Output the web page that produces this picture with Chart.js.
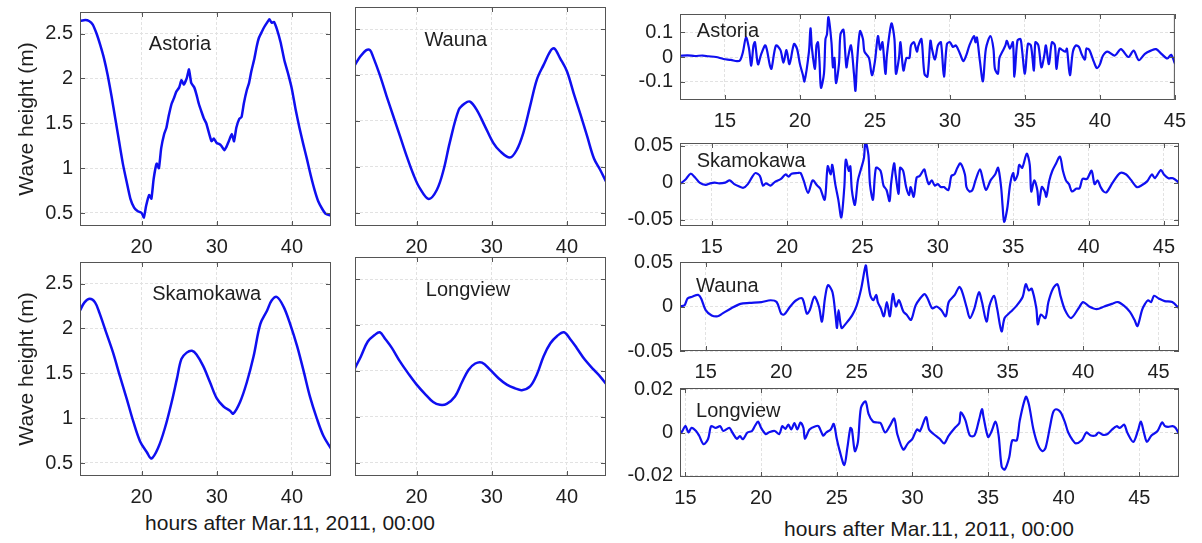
<!DOCTYPE html>
<html>
<head>
<meta charset="utf-8">
<script src="https://cdn.jsdelivr.net/npm/chart.js@4"></script>
<style>
  body { margin: 0; background: #fff; }
  #fig { position: relative; width: 1202px; height: 543px; overflow: hidden; font-family: "Liberation Sans", Arial, sans-serif; }
  #fig canvas { position: absolute; }
  .xlab { position: absolute; font-size: 21px; line-height: 24px; color: #1a1a1a; white-space: nowrap; transform: translateX(-50%); }
</style>
</head>
<body>
<div id="fig">
  <div class="xlab" style="left:290px; top:511px">hours after Mar.11, 2011, 00:00</div>
  <div class="xlab" style="left:929px; top:517px">hours after Mar.11, 2011, 00:00</div>
</div>
<script>
// tick values
const leftXTicks = [20, 30, 40];
const leftYTicks = [0.5, 1, 1.5, 2, 2.5];
const rightXTicks = [15, 20, 25, 30, 35, 40, 45];
const astoriaYTicks = [-0.1, 0, 0.1];
const skamokawaYTicks = [-0.05, 0, 0.05];
const waunaYTicks = [-0.05, 0, 0.05];
const longviewYTicks = [-0.02, 0, 0.02];

// left: total water level (m)
const astoriaTideHours = [11.8,12.5,13,13.5,14,14.5,15,15.5,16,16.5,17,17.5,18,18.5,19,19.5,20,20.3,20.6,21,21.3,21.6,22,22.3,22.6,23,23.3,23.6,24,24.3,24.6,25,25.3,25.6,26,26.3,26.6,27,27.3,27.6,28,28.3,28.6,29,29.3,29.6,30,30.3,30.6,31,31.3,31.6,32,32.3,32.6,33,33.3,33.6,34,34.3,34.6,35,35.3,35.6,36,36.3,36.6,37,37.3,37.6,38,38.5,39,39.5,40,40.5,41,41.5,42,42.5,43,43.5,44,44.5,45.2];
const astoriaTide = [2.64,2.65,2.64,2.6,2.5,2.37,2.22,2.03,1.8,1.55,1.3,1.05,0.85,0.66,0.56,0.52,0.5,0.45,0.58,0.7,0.66,0.88,1.05,1.0,1.22,1.38,1.45,1.58,1.72,1.78,1.85,1.9,1.98,1.93,2.0,2.1,1.95,1.9,1.82,1.72,1.62,1.55,1.5,1.38,1.3,1.33,1.28,1.27,1.25,1.2,1.24,1.3,1.38,1.3,1.45,1.55,1.57,1.72,1.87,1.95,2.08,2.22,2.35,2.45,2.52,2.57,2.61,2.66,2.62,2.63,2.55,2.4,2.2,2.05,1.88,1.65,1.45,1.27,1.1,0.92,0.76,0.63,0.55,0.49,0.47];

const waunaTideHours = [11.8,12.5,13.3,13.8,14.2,15.1,16,16.9,17.8,18.7,19.6,20.4,21.6,22.7,23.6,24.4,25.6,26.4,27.1,28,29.1,30.2,31.1,32.4,33.3,34.2,35.1,36,36.9,37.8,38.3,39.1,40,40.9,41.8,42.7,43.6,44.4,45.2];
const waunaTide = [2.11,2.2,2.27,2.27,2.2,2.0,1.77,1.55,1.33,1.11,0.91,0.77,0.65,0.75,0.97,1.26,1.62,1.69,1.71,1.62,1.44,1.26,1.17,1.1,1.18,1.37,1.66,1.95,2.11,2.26,2.29,2.18,2.04,1.8,1.57,1.33,1.09,0.97,0.84];

const skamokawaTideHours = [11.8,12.4,13.1,13.8,14.4,15.3,16.2,17.1,18,18.9,19.8,20.7,21.3,22.2,23.1,24,24.7,25.3,26,26.7,27.3,28.2,29.1,30,30.9,31.8,32.2,33.1,34,34.9,35.8,36.7,37.3,38,38.9,39.8,40.7,41.6,42.4,43.3,44.2,45.2];
const skamokawaTide = [2.2,2.29,2.33,2.29,2.17,1.95,1.73,1.47,1.22,0.96,0.74,0.62,0.55,0.67,0.89,1.18,1.44,1.66,1.73,1.75,1.71,1.58,1.4,1.22,1.13,1.08,1.05,1.18,1.4,1.69,2.05,2.2,2.31,2.35,2.24,2.04,1.8,1.51,1.24,1.0,0.8,0.66];

const longviewTideHours = [11.8,12.6,13.5,14.4,15.1,15.8,16.7,17.8,18.9,20,21.1,22.2,23.1,24,25.1,26,26.9,27.8,28.7,29.8,30.9,32,33.1,34,35.1,36,36.9,37.8,38.7,39.6,40.4,41.3,42.4,43.6,44.4,45.2];
const longviewTide = [1.53,1.66,1.82,1.89,1.92,1.85,1.75,1.6,1.47,1.35,1.25,1.16,1.13,1.14,1.22,1.37,1.51,1.58,1.59,1.51,1.42,1.35,1.31,1.29,1.33,1.46,1.66,1.8,1.88,1.92,1.85,1.75,1.62,1.51,1.44,1.36];

// right: high-pass tsunami signal (m)
const astoriaWaveHours = [12,12.5,13,13.5,13.9,14.4,14.9,15.4,15.8,16,16.2,16.4,16.6,16.75,16.9,17,17.2,17.4,17.7,18,18.1,18.4,18.7,18.9,19.1,19.3,19.6,19.8,20,20.2,20.3,20.6,20.7,20.8,21,21.1,21.2,21.3,21.4,21.6,21.7,21.8,21.9,22.1,22.2,22.3,22.4,22.6,22.7,22.9,23,23.1,23.2,23.4,23.6,23.7,23.8,24,24.2,24.3,24.6,24.8,25,25.2,25.35,25.5,25.7,25.8,26.1,26.3,26.4,26.6,26.7,26.9,27.1,27.3,27.4,27.6,27.8,27.9,28.1,28.3,28.5,28.7,28.8,29,29.2,29.4,29.6,29.8,30,30.2,30.4,30.7,30.9,31.1,31.3,31.6,31.7,31.8,32,32.2,32.4,32.7,32.9,33,33.2,33.3,33.5,33.7,33.8,34,34.2,34.3,34.5,34.7,34.8,35,35.2,35.4,35.6,35.7,35.9,36.1,36.3,36.4,36.6,36.8,37,37.1,37.3,37.5,37.7,37.8,38,38.2,38.4,38.6,38.8,39,39.1,39.3,39.6,39.8,40,40.2,40.5,41,41.4,41.9,42.25,42.6,43,43.4,43.75,44.1,44.5,44.75,45];
const astoriaWave = [0.005,0.007,0.004,0.006,0.003,0,-0.008,-0.012,-0.017,-0.014,0.021,0.08,0.035,-0.035,0.047,0.06,-0.03,0.009,0.047,-0.036,-0.048,0.047,0.028,-0.023,0.028,-0.029,0.053,0.034,-0.029,-0.074,-0.099,0.022,0.117,0.034,-0.048,0.047,0.06,-0.017,-0.125,-0.068,0.073,0.092,0.162,0.06,-0.042,-0.004,-0.106,-0.029,0.092,0.111,0.034,-0.042,-0.004,0.047,-0.068,-0.138,-0.029,0.105,0.073,0.022,-0.004,-0.074,-0.017,0.085,0.03,0.06,-0.068,0.009,0.136,0.073,-0.068,-0.004,0.06,-0.055,-0.004,-0.004,0.047,0.06,0.022,0.047,0.073,-0.068,-0.08,0.066,0.034,-0.01,0.047,0.06,-0.08,0.053,0.06,0.041,0.047,0.009,-0.017,0.009,0.047,0.085,0.06,0.079,-0.017,-0.099,0.034,0.085,0.034,-0.048,-0.068,-0.004,0.022,0.047,0.066,0.034,0.06,-0.08,0.066,0.073,0.034,-0.068,0.053,0.047,-0.055,0.06,0.047,-0.042,0.009,0.047,-0.029,0.06,0.047,-0.048,0.034,0.028,0.022,0.034,-0.074,0.022,0.047,0.041,0.009,-0.01,0.034,0.028,-0.02,-0.045,-0.03,0.005,0.022,0.006,0.032,0,0.026,-0.013,0.013,0.026,0.032,0.013,-0.006,0.009,-0.026];

const skamokawaWaveHours = [12.9,13.3,13.6,13.9,14.2,14.6,14.9,15.2,15.5,15.9,16.2,16.5,16.8,17.1,17.4,17.7,17.9,18.2,18.4,18.6,18.9,19.2,19.6,19.9,20.1,20.3,20.7,20.9,21.1,21.4,21.7,22,22.2,22.5,22.7,22.9,23,23.2,23.4,23.6,23.8,23.9,24.1,24.2,24.3,24.5,24.7,24.9,25.1,25.2,25.4,25.5,25.7,25.9,26.2,26.4,26.6,26.8,26.9,27.1,27.2,27.4,27.5,27.7,27.9,28.1,28.2,28.4,28.6,28.8,29.1,29.2,29.4,29.6,29.8,30,30.2,30.4,30.7,30.9,31.1,31.3,31.5,31.8,31.9,32.1,32.3,32.5,32.8,33,33.2,33.5,33.8,34,34.2,34.3,34.4,34.6,34.8,35,35.1,35.3,35.4,35.6,35.9,36.1,36.2,36.4,36.6,36.7,36.9,37.1,37.2,37.4,37.6,37.8,38.1,38.3,38.5,38.7,38.9,39.2,39.4,39.6,39.9,40.2,40.4,40.6,40.8,41,41.2,41.6,42.1,42.5,42.8,43.2,43.5,43.9,44.2,44.4,44.8,45,45.3,45.6,46];
const skamokawaWave = [-0.002,0.005,0.012,0.007,0,-0.003,-0.001,0,-0.001,0,0.003,-0.002,-0.005,-0.007,-0.002,0.008,0.013,0.009,-0.004,-0.001,-0.004,0.001,0.005,0.011,0.008,0.012,0.013,0.013,0.003,-0.014,0.003,-0.004,-0.008,-0.023,0.022,0.011,0.024,-0.002,-0.023,-0.047,-0.006,0.031,0.016,0.022,-0.01,-0.03,0.003,0.018,0.033,0.056,0.037,-0.002,-0.023,0.02,0.016,-0.004,-0.01,-0.025,-0.002,0.026,0.011,-0.015,0.02,0.016,-0.006,-0.017,-0.006,-0.019,0.007,0.009,0.018,0.011,-0.002,0.003,-0.004,-0.002,-0.006,-0.006,-0.01,0.009,0.011,0.02,0.026,0.011,-0.006,-0.012,-0.01,0.003,0.018,0.003,-0.01,0.003,0.011,0.02,-0.006,-0.032,-0.053,-0.036,-0.002,0.013,0.003,0.011,0.024,0.02,0.039,0.024,-0.012,0.003,-0.01,-0.03,-0.006,-0.012,-0.019,0.003,0.016,0.024,0.035,0.016,0.003,-0.002,-0.012,-0.008,-0.008,0.005,0.005,0.016,-0.002,0.003,-0.006,-0.012,-0.013,0,0.013,0.011,0.004,-0.006,-0.004,0.002,0.011,0.006,0.017,0.011,0.006,0.006,0];

const waunaWaveHours = [13.3,13.6,13.8,14.1,14.5,14.7,15,15.4,15.8,16.1,16.7,17.3,17.9,18.7,19.3,19.7,20,20.2,20.6,21,21.4,21.7,21.9,22.2,22.5,22.7,22.9,23.1,23.4,23.6,23.7,23.8,24,24.3,24.7,25,25.3,25.6,25.7,25.9,26.1,26.3,26.4,26.6,26.8,27,27.2,27.4,27.6,27.8,28.1,28.3,28.6,28.9,29.2,29.5,29.7,30,30.3,30.6,30.9,31.1,31.5,31.8,32,32.3,32.5,32.8,33.1,33.3,33.6,33.8,34.1,34.3,34.6,34.8,35.2,35.6,36,36.2,36.4,36.6,36.9,37,37.2,37.5,37.7,38,38.3,38.5,38.8,39.2,39.7,40,40.4,40.9,41.4,41.9,42.3,42.7,43.1,43.4,43.6,43.9,44.1,44.3,44.5,44.7,45,45.4,45.9,46.35];
const waunaWave = [0,0.0015,0.009,0.011,0.013,0.009,-0.004,-0.01,-0.011,-0.008,-0.002,0.003,0.004,0.005,0.007,0.005,-0.008,-0.009,0,0.007,0.009,-0.008,-0.004,0.011,0,-0.017,0.009,0.024,0.016,-0.01,-0.024,-0.004,-0.024,-0.019,-0.01,0.001,0.02,0.046,0.035,0.013,0.007,0.013,0.005,-0.002,-0.011,0.005,-0.011,0.014,0,0.007,-0.006,-0.009,-0.015,0.001,0.009,0.014,0.009,-0.002,0,-0.004,-0.011,0.005,0.013,0.022,0.016,-0.002,-0.013,-0.002,0.016,0.005,-0.017,0.001,0.012,-0.002,-0.028,-0.013,-0.006,0.001,0.011,0.025,0.018,0.02,-0.002,-0.02,-0.009,-0.013,0.005,0.02,0.025,0.012,-0.004,-0.013,-0.002,0.005,0,-0.003,0,0.003,0.005,0.001,-0.006,-0.015,-0.022,-0.004,0.003,0.007,0.005,0.012,0.009,0.006,0.005,-0.002];

const longviewWaveHours = [14.64,14.8,15,15.2,15.4,15.7,15.9,16.2,16.5,16.7,17,17.3,17.5,17.9,18.1,18.4,18.6,18.8,19.1,19.4,19.6,19.8,20,20.3,20.5,20.9,21.2,21.4,21.6,21.8,22,22.2,22.4,22.6,22.8,22.9,23.2,23.6,23.8,24.1,24.3,24.6,24.8,25,25.2,25.5,25.7,25.9,26,26.2,26.4,26.6,26.9,27.1,27.4,27.7,27.9,28.2,28.5,28.8,29,29.4,29.7,30,30.3,30.5,30.9,31.1,31.4,31.8,32.1,32.4,32.8,33.1,33.2,33.5,33.8,34.1,34.4,34.6,34.7,35,35.2,35.5,35.7,35.9,36.1,36.4,36.6,36.9,37.1,37.5,37.7,38,38.3,38.6,38.8,39.1,39.3,39.5,39.8,40.1,40.3,40.6,40.8,41.2,41.5,41.8,42.1,42.3,42.6,42.9,43.2,43.5,43.7,44,44.2,44.6,44.9,45.1,45.3,45.5,45.8,46.2,46.5,46.7,46.9,47.2,47.4,47.62];
const longviewWave = [-0.0007,0.0007,0.0031,0,0.0021,0.0007,-0.0014,-0.0054,-0.0029,0.0029,0.0021,0.0029,0.0007,0.0021,0,-0.0029,-0.0017,-0.0031,0,0.0007,0.0031,0.005,0.0021,-0.0007,0,0.0007,-0.0007,0.0029,0.0017,0.0036,0.0014,0.0043,0.0014,0.0046,0.0021,-0.0029,0.0014,0.0029,0.0029,-0.0014,0,0.0014,0.004,-0.0029,-0.0086,-0.015,-0.0071,0.0021,0.0014,-0.0086,-0.0043,0.0114,0.0143,0.0086,0.005,0.0046,0.0043,0,0.0029,0.0064,-0.0007,-0.0079,-0.005,-0.0029,0.0014,0.0007,0.0071,0.0014,-0.0007,-0.0029,-0.005,-0.0014,0.0021,0.0043,0.0093,0.0057,-0.0014,-0.0014,0.0057,0.0107,0.0071,-0.0021,0,0.005,-0.0014,-0.0157,-0.0171,-0.0114,-0.0036,-0.0036,0.0057,0.0164,0.0129,0.0014,-0.0057,-0.0086,-0.0071,0.0029,0.0093,0.0107,0.0093,0.0043,0,-0.0036,-0.005,-0.0036,0,-0.0014,-0.0014,0,-0.0011,-0.0007,0.0014,0.0029,0.0021,0.0036,0,-0.0043,0.0007,0.005,0,-0.0043,-0.0014,0.0007,0.0046,0.0029,0.0026,0.0029,0.0021,-0.0007];

const blue = '#0f0ff0';
const textColor = '#1f1f1f';
const boxColor = '#555';
const gridColor = '#e2e2e2';
const fontFamily = '"Liberation Sans", Arial, sans-serif';

// plot: [left, top, right, bottom] of the axes box on the page
const panels = [
  { name: 'Astoria', hours: astoriaTideHours, values: astoriaTide, plot: [80, 7, 331, 226], x: [11.8, 45.2], y: [0.355, 2.74], xTicks: leftXTicks, yTicks: leftYTicks, yLabels: true, yTitle: true, at: [25.1, 2.373], align: 'center', lw: 2.5, tension: 0.15 },
  { name: 'Wauna', hours: waunaTideHours, values: waunaTide, plot: [355, 7, 606, 226], x: [11.8, 45.2], y: [0.355, 2.74], xTicks: leftXTicks, yTicks: leftYTicks, yLabels: false, yTitle: false, at: [25.2, 2.373], align: 'center', lw: 2.5, tension: 0.35 },
  { name: 'Skamokawa', hours: skamokawaTideHours, values: skamokawaTide, plot: [80, 257, 331, 476], x: [11.8, 45.2], y: [0.355, 2.74], xTicks: leftXTicks, yTicks: leftYTicks, yLabels: true, yTitle: true, at: [28.66, 2.373], align: 'center', lw: 2.5, tension: 0.35 },
  { name: 'Longview', hours: longviewTideHours, values: longviewTide, plot: [355, 257, 606, 476], x: [11.8, 45.2], y: [0.355, 2.74], xTicks: leftXTicks, yTicks: leftYTicks, yLabels: false, yTitle: false, at: [26.84, 2.373], align: 'center', lw: 2.5, tension: 0.35 },
  { name: 'Astoria', hours: astoriaWaveHours, values: astoriaWave, plot: [680, 9, 1179, 100], x: [12, 45], y: [-0.175, 0.175], xTicks: rightXTicks, yTicks: astoriaYTicks, yLabels: true, yTitle: false, at: [13.12, 0.103], align: 'left', lw: 2.2, tension: 0.3 },
  { name: 'Skamokawa', hours: skamokawaWaveHours, values: skamokawaWave, plot: [680, 138, 1179, 226], x: [12.9, 46], y: [-0.0586, 0.0535], xTicks: rightXTicks, yTicks: skamokawaYTicks, yLabels: true, yTitle: false, at: [14.01, 0.0284], align: 'left', lw: 2.2, tension: 0.3 },
  { name: 'Wauna', hours: waunaWaveHours, values: waunaWave, plot: [680, 257, 1179, 351], x: [13.3, 46.35], y: [-0.05, 0.05], xTicks: rightXTicks, yTicks: waunaYTicks, yLabels: true, yTitle: false, at: [14.36, 0.0227], align: 'left', lw: 2.2, tension: 0.3 },
  { name: 'Longview', hours: longviewWaveHours, values: longviewWave, plot: [680, 383, 1179, 477], x: [14.64, 47.62], y: [-0.0205, 0.0205], xTicks: rightXTicks, yTicks: longviewYTicks, yLabels: true, yTitle: false, at: [15.7, 0.0099], align: 'left', lw: 2.2, tension: 0.3 }
];

// box, inward ticks and station name
const framePlugin = {
  id: 'frame',
  afterDraw(chart, args, opts) {
    const {ctx, chartArea: a, scales: {x, y}} = chart;
    ctx.save();
    ctx.strokeStyle = boxColor;
    ctx.lineWidth = 1;
    ctx.strokeRect(a.left + 0.5, a.top + 0.5, a.width - 1, a.height - 1);
    ctx.beginPath();
    x.ticks.forEach(t => {
      const px = Math.round(x.getPixelForValue(t.value)) + 0.5;
      ctx.moveTo(px, a.bottom); ctx.lineTo(px, a.bottom - 5);
      ctx.moveTo(px, a.top); ctx.lineTo(px, a.top + 5);
    });
    y.ticks.forEach(t => {
      const py = Math.round(y.getPixelForValue(t.value)) + 0.5;
      ctx.moveTo(a.left, py); ctx.lineTo(a.left + 5, py);
      ctx.moveTo(a.right, py); ctx.lineTo(a.right - 5, py);
    });
    ctx.stroke();
    ctx.fillStyle = textColor;
    ctx.font = '20px ' + fontFamily;
    ctx.textAlign = opts.align;
    ctx.textBaseline = 'middle';
    ctx.fillText(opts.text, x.getPixelForValue(opts.at[0]), y.getPixelForValue(opts.at[1]));
    ctx.restore();
  }
};

const fig = document.getElementById('fig');

function makePanel(p) {
  const [l, t, r, b] = p.plot;
  const axisW = p.yLabels ? 80 : 14;
  const padT = 14, padR = 16, axisH = 34;
  const cv = document.createElement('canvas');
  cv.width = (r - l) + axisW + padR;
  cv.height = (b - t) + padT + axisH;
  cv.style.left = (l - axisW) + 'px';
  cv.style.top = (t - padT) + 'px';
  fig.appendChild(cv);

  const tickFont = { family: fontFamily, size: 20 };

  new Chart(cv, {
    type: 'line',
    data: {
      datasets: [{
        data: p.hours.map((h, i) => ({ x: h, y: p.values[i] })),
        borderColor: blue,
        borderWidth: p.lw,
        pointRadius: 0,
        tension: p.tension,
        fill: false,
        borderJoinStyle: 'round',
        borderCapStyle: 'round'
      }]
    },
    options: {
      responsive: false,
      animation: false,
      devicePixelRatio: 1,
      layout: { padding: { top: padT, right: padR, left: 0, bottom: 0 } },
      plugins: {
        legend: { display: false },
        tooltip: { enabled: false },
        frame: { text: p.name, at: p.at, align: p.align }
      },
      scales: {
        x: {
          type: 'linear',
          min: p.x[0],
          max: p.x[1],
          afterBuildTicks: s => { s.ticks = p.xTicks.map(v => ({ value: v })); },
          afterFit: s => { s.height = axisH; },
          grid: { color: gridColor, drawTicks: false },
          border: { display: false, dash: [3, 2] },
          ticks: { padding: 9, autoSkip: false, maxRotation: 0, font: tickFont, color: textColor, callback: v => String(v) }
        },
        y: {
          type: 'linear',
          min: p.y[0],
          max: p.y[1],
          afterBuildTicks: s => { s.ticks = p.yTicks.map(v => ({ value: v })); },
          afterFit: s => { s.width = axisW; },
          grid: { color: gridColor, drawTicks: false },
          border: { display: false, dash: [3, 2] },
          ticks: { display: p.yLabels, padding: 7, autoSkip: false, font: tickFont, color: textColor, callback: v => String(v) },
          title: { display: p.yTitle, text: 'Wave height (m)', color: textColor, font: { family: fontFamily, size: 21 }, padding: { top: 15, bottom: 0 } }
        }
      }
    },
    plugins: [framePlugin]
  });
}

panels.forEach(makePanel);
</script>
</body>
</html>
